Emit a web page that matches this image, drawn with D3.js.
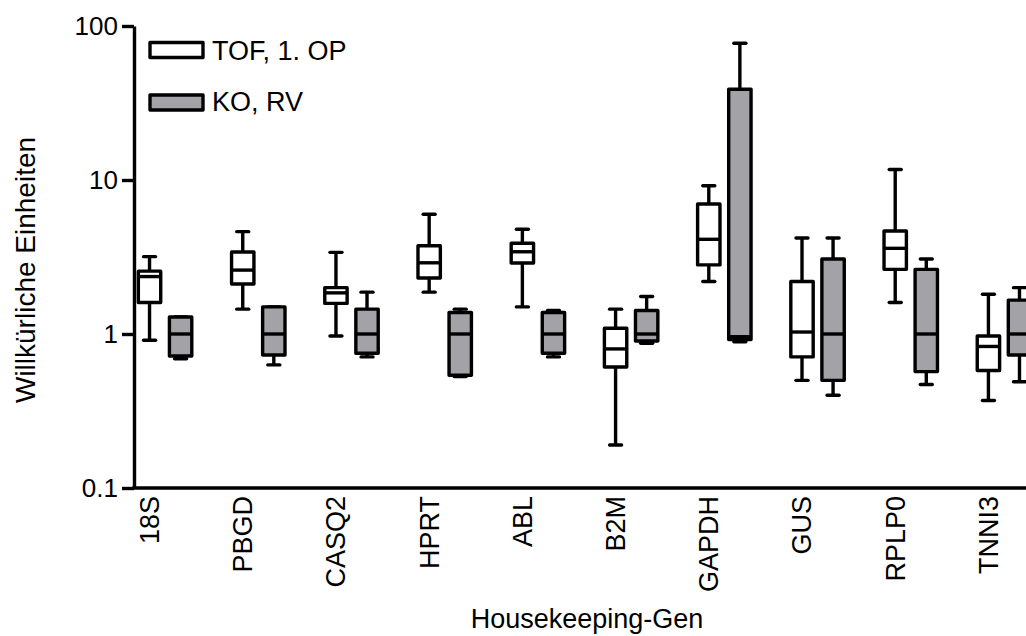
<!DOCTYPE html>
<html>
<head>
<meta charset="utf-8">
<script src="https://cdn.jsdelivr.net/npm/d3@7"></script>
<style>
  html, body { margin: 0; padding: 0; background: #fff; }
  svg { display: block; font-family: "Liberation Sans", Arial, Helvetica, sans-serif; }
</style>
</head>
<body>
<svg id="chart" width="1026" height="636"></svg>
<script>
// Housekeeping genes on the x axis
const genes = ["18S", "PBGD", "CASQ2", "HPRT", "ABL", "B2M", "GAPDH", "GUS", "RPLP0", "TNNI3"];
const seriesNames = ["TOF, 1. OP", "KO, RV"];
const yTicks = [0.1, 1, 10, 100];

// TOF, 1. OP — five-number summaries per gene
const tofMin = [0.91, 1.45, 0.97, 1.87, 1.50, 0.19, 2.19, 0.50, 1.60, 0.37];
const tofQ1  = [1.60, 2.11, 1.58, 2.31, 2.89, 0.61, 2.81, 0.71, 2.63, 0.58];
const tofMed = [2.36, 2.60, 1.85, 2.90, 3.42, 0.80, 4.12, 1.03, 3.60, 0.83];
const tofQ3  = [2.56, 3.41, 2.00, 3.74, 3.88, 1.09, 6.98, 2.19, 4.67, 0.97];
const tofMax = [3.18, 4.62, 3.39, 5.99, 4.79, 1.45, 9.18, 4.20, 11.7, 1.81];

// KO, RV — five-number summaries per gene
const koMin = [0.69, 0.63, 0.71, 0.53, 0.71, 0.87, 0.89, 0.40, 0.47, 0.49];
const koQ1  = [0.72, 0.73, 0.75, 0.54, 0.75, 0.90, 0.92, 0.50, 0.57, 0.73];
const koMed = [1.00, 1.00, 1.00, 1.00, 1.00, 1.00, 0.96, 1.00, 1.00, 1.00];
const koQ3  = [1.29, 1.50, 1.45, 1.38, 1.38, 1.42, 38.8, 3.07, 2.63, 1.66];
const koMax = [1.29, 1.50, 1.87, 1.45, 1.42, 1.75, 77.2, 4.20, 3.07, 2.00];

const fills = ["#ffffff", "#a3a2a7"];

const stats = [
  genes.map((g, i) => ({ gene: g, s: 0, min: tofMin[i], q1: tofQ1[i], med: tofMed[i], q3: tofQ3[i], max: tofMax[i] })),
  genes.map((g, i) => ({ gene: g, s: 1, min: koMin[i], q1: koQ1[i], med: koMed[i], q3: koQ3[i], max: koMax[i] }))
].flat();

const svg = d3.select("#chart");
const axisX0 = 134, axisY0 = 488, plotTop = 26;
const slot = 31.07;

// Each gene occupies three slots: TOF box, KO box, gap
const x0 = d3.scaleBand().domain(genes).range([axisX0, axisX0 + genes.length * 3 * slot]);
const x1 = d3.scaleBand().domain(seriesNames).range([0, 2 * slot]);
const y = d3.scaleLog().domain([0.1, 100]).range([axisY0, plotTop]);

const boxW = x1.bandwidth() * 0.72;
const capW = 15;
const sw = 3.4;
const cx = d => x0(d.gene) + x1(seriesNames[d.s]) + x1.bandwidth() / 2;

// Boxes
const g = svg.append("g").attr("class", "boxes")
  .attr("stroke", "#000").attr("stroke-width", sw);

const box = g.selectAll("g.box").data(stats).join("g").attr("class", "box");

box.append("line")
  .attr("x1", cx).attr("x2", cx)
  .attr("y1", d => y(d.max)).attr("y2", d => y(d.q3));
box.append("line")
  .attr("x1", cx).attr("x2", cx)
  .attr("y1", d => y(d.q1)).attr("y2", d => y(d.min));
box.append("line")
  .attr("stroke-linecap", "round")
  .attr("x1", d => cx(d) - capW / 2 + 1.5).attr("x2", d => cx(d) + capW / 2 - 1.5)
  .attr("y1", d => y(d.max)).attr("y2", d => y(d.max));
box.append("line")
  .attr("stroke-linecap", "round")
  .attr("x1", d => cx(d) - capW / 2 + 1.5).attr("x2", d => cx(d) + capW / 2 - 1.5)
  .attr("y1", d => y(d.min)).attr("y2", d => y(d.min));
box.append("rect")
  .attr("stroke-linejoin", "round")
  .attr("x", d => cx(d) - boxW / 2)
  .attr("width", boxW)
  .attr("y", d => y(d.q3))
  .attr("height", d => y(d.q1) - y(d.q3))
  .attr("fill", d => fills[d.s]);
box.append("line")
  .attr("x1", d => cx(d) - boxW / 2).attr("x2", d => cx(d) + boxW / 2)
  .attr("y1", d => y(d.med)).attr("y2", d => y(d.med));

// Y axis
const yAxis = svg.append("g")
  .attr("transform", `translate(${axisX0},0)`)
  .call(d3.axisLeft(y).tickValues(yTicks).tickFormat(d3.format("~g")).tickSize(12).tickSizeOuter(0).tickPadding(4));
yAxis.select(".domain").attr("stroke-width", sw);
yAxis.selectAll(".tick line").attr("stroke-width", sw);
yAxis.selectAll(".tick text").attr("font-size", 26).attr("fill", "#000")
  .attr("font-family", "Liberation Sans, Arial, sans-serif");

// X axis line
svg.append("line")
  .attr("x1", axisX0 - sw / 2).attr("x2", 1100)
  .attr("y1", axisY0).attr("y2", axisY0)
  .attr("stroke", "#000").attr("stroke-width", sw);

// Gene labels, centred under the TOF box of each group
const xLab = d3.scaleBand().domain(genes).range([axisX0 - slot, axisX0 - slot + genes.length * 3 * slot]);
const xAxis = svg.append("g")
  .attr("transform", `translate(0,${axisY0 + 8})`)
  .call(d3.axisBottom(xLab).tickSize(0).tickPadding(0));
xAxis.select(".domain").remove();
xAxis.selectAll(".tick text")
  .attr("font-size", 27)
  .attr("fill", "#000")
  .attr("font-family", "Liberation Sans, Arial, sans-serif")
  .attr("text-anchor", "end")
  .attr("transform", "rotate(-90)")
  .attr("x", 0).attr("y", 0).attr("dy", "0.35em");

// Axis titles
svg.append("text")
  .attr("x", 587).attr("y", 628)
  .attr("text-anchor", "middle").attr("font-size", 27)
  .text("Housekeeping-Gen");
svg.append("text")
  .attr("transform", "translate(35,270) rotate(-90)")
  .attr("text-anchor", "middle").attr("font-size", 28)
  .text("Willkürliche Einheiten");

// Legend
const legend = svg.append("g");
const legY = [42.5, 95];
const legBase = [59.5, 111];
seriesNames.forEach((name, i) => {
  legend.append("rect")
    .attr("x", 150).attr("y", legY[i]).attr("width", 53).attr("height", 15)
    .attr("fill", fills[i]).attr("stroke", "#000").attr("stroke-width", sw)
    .attr("stroke-linejoin", "round");
  legend.append("text")
    .attr("x", 212).attr("y", legBase[i]).attr("font-size", 27)
    .text(name);
});
</script>
</body>
</html>
